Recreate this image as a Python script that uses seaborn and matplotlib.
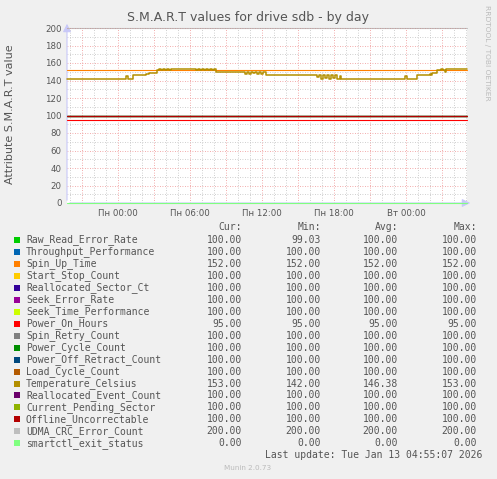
import matplotlib
matplotlib.use("Agg")
import matplotlib.pyplot as plt
import seaborn as sns
import numpy as np
import pandas as pd
from matplotlib.patches import Rectangle

sns.set_theme(style="white")
plt.rcParams['font.family'] = ['DejaVu Sans']

# ---------------- data ----------------
names = ["Raw_Read_Error_Rate", "Throughput_Performance", "Spin_Up_Time",
         "Start_Stop_Count", "Reallocated_Sector_Ct", "Seek_Error_Rate",
         "Seek_Time_Performance", "Power_On_Hours", "Spin_Retry_Count",
         "Power_Cycle_Count", "Power_Off_Retract_Count", "Load_Cycle_Count",
         "Temperature_Celsius", "Reallocated_Event_Count", "Current_Pending_Sector",
         "Offline_Uncorrectable", "UDMA_CRC_Error_Count", "smartctl_exit_status"]
colors = ["#00CC00", "#0066B3", "#FF8000", "#FFCC00", "#330099", "#990099",
          "#CCFF00", "#FF0000", "#808080", "#008F00", "#00487D", "#B35A00",
          "#B38F00", "#6B006B", "#8FB300", "#B30000", "#BEBEBE", "#80FF80"]
cur_vals = [100, 100, 152, 100, 100, 100, 100, 95, 100, 100, 100, 100, 153, 100, 100, 100, 200, 0]
min_vals = [99.03, 100, 152, 100, 100, 100, 100, 95, 100, 100, 100, 100, 142, 100, 100, 100, 200, 0]
avg_vals = [100, 100, 152, 100, 100, 100, 100, 95, 100, 100, 100, 100, 146.38, 100, 100, 100, 200, 0]
max_vals = [100, 100, 152, 100, 100, 100, 100, 95, 100, 100, 100, 100, 153, 100, 100, 100, 200, 0]

# hours relative to Monday 00:00
t_start, t_end = -4.28, 29.06
temp_t = [-4.28, 0.64, 0.77, 1.23, 2.31, 2.56, 3.23, 3.39, 3.56, 3.73, 3.89, 4.06,
          4.23, 4.39, 4.56, 6.48, 6.64, 6.81, 6.98, 7.14, 7.31, 7.48, 7.64, 7.81,
          7.98, 8.14, 10.56, 10.73, 10.89, 11.06, 11.23, 11.39, 11.56, 11.73, 11.89,
          12.06, 12.31, 16.56, 16.73, 16.89, 17.06, 17.23, 17.39, 17.56, 17.73,
          17.89, 18.06, 18.23, 18.48, 18.56, 23.89, 24.06, 24.89, 25.98, 26.06,
          26.14, 26.56, 26.89, 27.06, 27.23, 27.31, 29.06]
temp_v = [142, 145, 142, 146, 148, 149, 152, 153, 152, 153, 152, 153,
          152, 153, 153, 152, 153, 152, 153, 152, 153, 152, 153, 152,
          153, 150, 148, 150, 148, 150, 149, 150, 148, 150, 148,
          150, 146, 144, 146, 142, 146, 143, 146, 142, 146,
          143, 146, 142, 145, 142, 145, 142, 146, 148, 146,
          149, 152, 153, 152, 150, 153, 153]
raw_t = [t_start, -0.65, -0.55, t_end]
raw_v = [100, 99, 100, 100]

xtick_pos = [0, 6, 12, 18, 24]
xtick_labels = ["Пн 00:00", "Пн 06:00", "Пн 12:00", "Пн 18:00", "Вт 00:00"]
ytick_pos = list(range(0, 201, 20))

# ---------------- figure ----------------
W, H = 497, 479
fig = plt.figure(figsize=(W / 100, H / 100), dpi=100, facecolor="#F0F0F0")
ax = fig.add_axes([67 / W, (H - 203) / H, 400 / W, 175 / H])
ax.set_facecolor("white")

# grid
for h in np.arange(-4, 30, 1):
    if h % 3 != 0:
        ax.axvline(h, color="#C0C0C0", lw=0.6, ls=(0, (1, 2)), zorder=0)
for h in np.arange(-3, 30, 3):
    ax.axvline(h, color="#EE9090", lw=0.6, ls=(0, (1, 2)), zorder=0)
for v in range(10, 200, 20):
    ax.axhline(v, color="#C0C0C0", lw=0.6, ls=(0, (1, 2)), zorder=0)
for v in range(20, 200, 20):
    ax.axhline(v, color="#EE9090", lw=0.6, ls=(0, (1, 2)), zorder=0)

# axis lines with arrows
axis_col = "#C8C8F8"
ax.annotate("", xy=(0, 1.04), xytext=(0, 0), xycoords="axes fraction",
            arrowprops=dict(arrowstyle="-|>,head_length=0.4,head_width=0.2", color=axis_col, lw=0.8),
            annotation_clip=False, zorder=1)
ax.annotate("", xy=(1.015, 0), xytext=(0, 0), xycoords="axes fraction",
            arrowprops=dict(arrowstyle="-|>,head_length=0.4,head_width=0.2", color=axis_col, lw=0.8),
            annotation_clip=False, zorder=1)

for i, name in enumerate(names):
    if name == "Temperature_Celsius":
        x, y = temp_t, temp_v
        lw = 1.1
    elif name == "Raw_Read_Error_Rate":
        x, y = raw_t, raw_v
        lw = 0.8
    else:
        x, y = [t_start, t_end], [cur_vals[i], cur_vals[i]]
        lw = 0.8
    sns.lineplot(x=x, y=y, ax=ax, color=colors[i], lw=lw, drawstyle="steps-post",
                 estimator=None, sort=False, legend=False, zorder=4 + i * 0.01,
                 clip_on=False)
# dotted major grid at the top overlays the 200 line
ax.axhline(200, color="#D09090", lw=0.6, ls=(0, (1, 2)), zorder=5, clip_on=False)

ax.set_xlim(t_start, t_end)
ax.set_ylim(0, 200)
ax.set_xticks(xtick_pos)
ax.set_xticklabels(xtick_labels)
ax.set_yticks(ytick_pos)
ax.tick_params(axis="both", labelsize=6.2, colors="#555555", length=0, pad=4)
for s in ax.spines.values():
    s.set_visible(False)
ax.set_xlabel("")
ax.set_ylabel("")

# titles
fig.text(248 / W, 1 - 18 / H, "S.M.A.R.T values for drive sdb - by day",
         ha="center", va="center", fontsize=9.0, color="#555555")
fig.text(10 / W, 1 - 114 / H, "Attribute S.M.A.R.T value", rotation=90,
         ha="center", va="center", fontsize=8.0, color="#555555")
fig.text(487 / W, 1 - 53 / H, "RRDTOOL / TOBI OETIKER", rotation=270,
         ha="center", va="center", fontsize=5.4, color="#BBBBBB")

# legend
mono = "DejaVu Sans Mono"
fs = 7.0
tc = "#555555"
col_right = [242, 321, 398, 477]
headers = ["Cur:", "Min:", "Avg:", "Max:"]
for xr, hd in zip(col_right, headers):
    fig.text(xr / W, 1 - 227 / H, hd, ha="right", va="center", family=mono, fontsize=fs, color=tc)
for i, name in enumerate(names):
    yc = 240 + i * 11.96
    fig.patches.append(Rectangle((14 / W, 1 - (yc + 3) / H), 6 / W, 6 / H,
                                 transform=fig.transFigure, facecolor=colors[i],
                                 edgecolor="none"))
    fig.text(26 / W, 1 - yc / H, name, ha="left", va="center", family=mono, fontsize=fs, color=tc)
    for xr, vals in zip(col_right, [cur_vals, min_vals, avg_vals, max_vals]):
        fig.text(xr / W, 1 - yc / H, f"{vals[i]:.2f}", ha="right", va="center",
                 family=mono, fontsize=fs, color=tc)
fig.text(482 / W, 1 - 455 / H, "Last update: Tue Jan 13 04:55:07 2026", ha="right",
         va="center", family=mono, fontsize=fs, color=tc)
fig.text(248 / W, 1 - 468 / H, "Munin 2.0.73", ha="center", va="center",
         fontsize=5.2, color="#BBBBBB")

fig.savefig("out.png", dpi=100, facecolor=fig.get_facecolor())
